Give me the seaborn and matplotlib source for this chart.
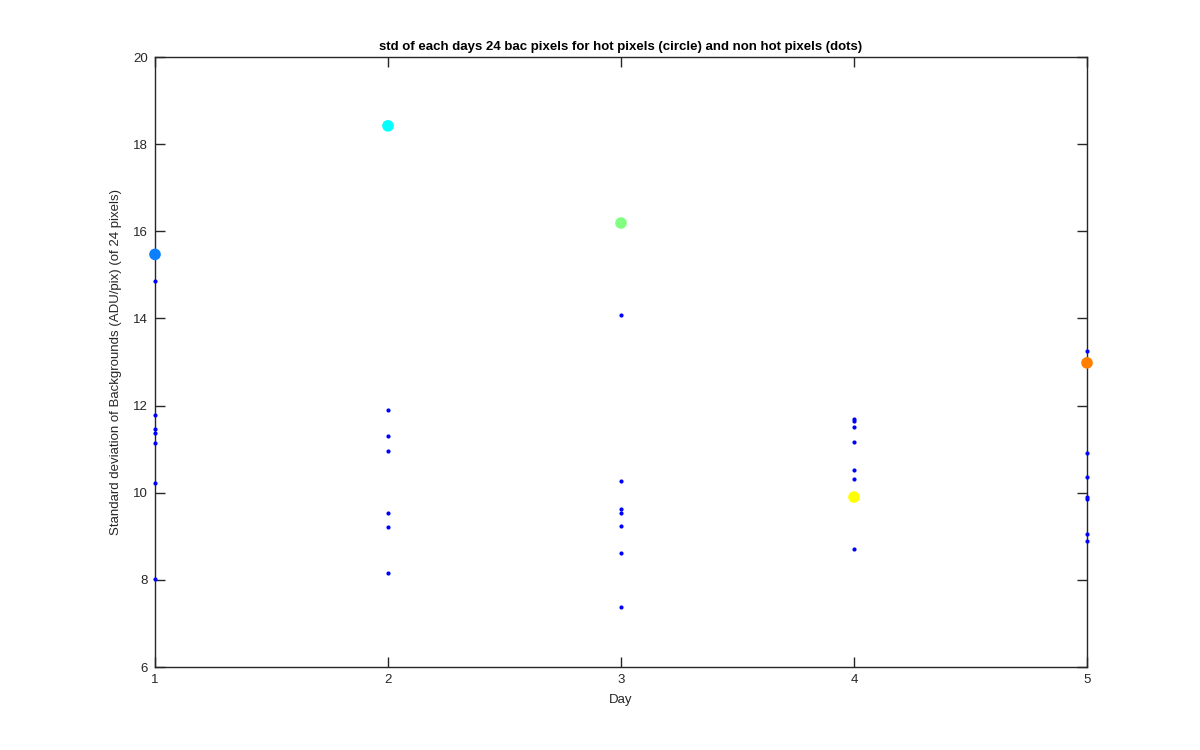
import numpy as np
import pandas as pd
import matplotlib
matplotlib.use('Agg')
import matplotlib.pyplot as plt
import seaborn as sns

# --- DATA ---
days = [1, 2, 3, 4, 5]

# hot pixel std per day (big circles)
hot_std = [15.47, 18.42, 16.19, 9.90, 12.98]
hot_colors = ['#0a80ff', '#00ffff', '#80ff80', '#ffff00', '#ff8000']

# non hot pixel std per day (dots)
day1_std = [14.86, 11.79, 11.46, 11.36, 11.15, 10.22, 8.01]
day2_std = [11.90, 11.31, 10.96, 9.54, 9.21, 8.16]
day3_std = [14.08, 10.28, 9.63, 9.54, 9.24, 8.61, 7.38]
day4_std = [11.69, 11.64, 11.50, 11.16, 10.53, 10.31, 8.70]
day5_std = [13.26, 10.90, 10.35, 9.91, 9.86, 9.05, 8.89]

rows = []
for d, vals in zip(days, [day1_std, day2_std, day3_std, day4_std, day5_std]):
    for v in vals:
        rows.append({'Day': d, 'Std': v})
df_dots = pd.DataFrame(rows)
df_hot = pd.DataFrame({'Day': days, 'Std': hot_std, 'color': hot_colors})

# --- STYLE ---
sns.set_theme(style='white')
plt.rcParams['font.family'] = ['Liberation Sans', 'DejaVu Sans']
EDGE = '#262626'

fig = plt.figure(figsize=(12, 7.5), dpi=100)
ax = fig.add_axes([155/1200, 83/750, 932/1200, 610/750])

sns.scatterplot(data=df_dots, x='Day', y='Std', color='blue', s=9,
                linewidth=0, ax=ax, clip_on=False, zorder=3)
sns.scatterplot(data=df_hot, x='Day', y='Std', hue='color', palette=hot_colors,
                s=70, linewidth=0, ax=ax, legend=False, clip_on=False, zorder=4)

ax.set_xlim(1, 5)
ax.set_ylim(6, 20)
ax.set_xticks(days)
ax.set_yticks(np.arange(6, 21, 2))
ax.tick_params(direction='in', length=7, width=1.0, color=EDGE,
               labelsize=9.5, labelcolor=EDGE, top=True, right=True,
               left=True, bottom=True, pad=5)
for sp in ax.spines.values():
    sp.set_color(EDGE)
    sp.set_linewidth(1.0)
    sp.set_visible(True)

ax.set_xlabel('Day', fontsize=9.5, color=EDGE, labelpad=6)
ax.set_ylabel('Standard deviation of Backgrounds (ADU/pix) (of 24 pixels)',
              fontsize=9.5, color=EDGE, labelpad=8)
ax.set_title('std of each days 24 bac pixels for hot pixels (circle) and non hot pixels (dots)',
             fontsize=9.5, fontweight='bold', color='black', pad=5)

plt.savefig('out.png', dpi=100)
